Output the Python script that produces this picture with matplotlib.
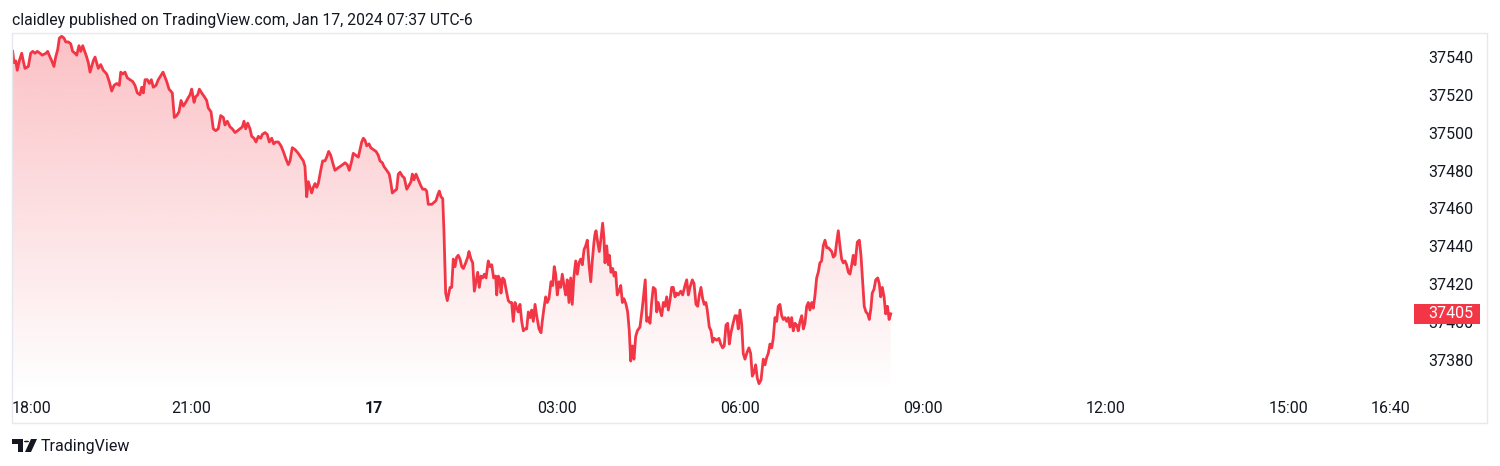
import numpy as np
import matplotlib.pyplot as plt
from matplotlib.patches import Rectangle, Circle, Polygon

# ---------------- DATA ----------------
# minutes after 18:00 (Jan 16) and last price
minutes = [
    4.6, 5.9, 7.6, 9.1, 11.1, 13.5, 15, 16.7, 20, 22.3, 24.3, 26.6, 28.8, 31.5, 33.7, 37.4, 39, 41.3, 43, 45.2,
    46.9, 48.9, 50.5, 52.8, 55.1, 56.8, 59.3, 61.7, 63.6, 65.9, 67.6, 69.8, 71.5, 73.5, 74.8, 77.4, 79, 80.7,
    82.3, 83.9, 85.6, 87.2, 88.8, 91.2, 93.7, 97.1, 99.6, 102, 104.3, 106.9, 109.5, 110.9, 112.8, 115.1, 117.3,
    120, 122.7, 124.9, 127.2, 129.8, 131.5, 133.1, 134.8, 137, 139, 141, 142.9, 145.6, 147.8,
    152.5, 156.1, 158.4, 161.6, 163.6, 165.9, 168.2, 170.2, 172.4, 174.8, 176.8, 179, 180.7, 183, 184.6, 186.6,
    188.2, 190.5, 193.1, 195.4, 197, 199.7, 201.9, 204.3, 206.8, 209.2, 211.8, 213.4, 215.7, 218.4, 220.6,
    223.3, 225.9, 228.2, 230.5, 232.1, 233.8, 235.8, 238, 239.7, 242, 243.9, 246.2, 248.6, 250.1, 252.8, 255,
    257, 259.4, 261.3, 263.3, 265.9, 268.5, 270.8, 273.4, 275.7, 277.4, 279.6, 282.3, 285.5, 287.9,
    290.5, 292.1, 293.8, 295.4, 297, 298.7, 300.3, 302, 303.6, 305.2, 307.6, 309.5, 311.8, 313.5, 315.4, 317.4,
    319.4, 321.6, 323.9, 326.6, 329.2, 331.5, 333.7, 335.7, 338.1, 339.6, 342, 344.6, 346.2, 347.9, 349.5,
    351.1, 352.8, 355.1, 356.8, 359.3, 362, 364.2, 365.9, 368.2, 369.8, 372.5, 375, 376.7, 378, 380, 382.3,
    383.9, 385.6, 387.8, 389.8, 392.2, 394.4, 396.4, 397.7, 399.3, 401.3, 403.6, 405.9, 407.9, 410.2, 411.8,
    413.4, 415.1, 416.8, 419, 421, 422.7, 424.2, 425.9, 427.6, 428.8, 430.5, 432.1, 434.8, 436.4,
    438, 439.7, 441.3, 442.9, 444.6, 446.3, 447.9, 450.2, 452.2, 453.4, 455.4, 457.1, 458.7, 460.3, 462, 463.6,
    465.2, 466.9, 468.5, 470.2, 472.4, 474.1, 475.8, 477.7, 479.7, 480.7, 482.3, 483.9, 484.9, 486.6, 488.2,
    489.5, 492.1, 493.8, 495.4, 497, 498.7, 500.4, 501.9, 503.6, 505.3, 506.9, 508.5, 510.2, 511.8, 513.5,
    515.1, 516.7, 518.4, 520, 522.3, 524.3, 525.5, 527.2, 528.9, 530.4, 532.1, 534.1, 535.8, 537.3, 538.7,
    540.3, 542, 543.6, 545.2, 546.9, 548.6, 550.1, 551.8, 553.5, 555, 556.7, 558.4, 560, 561.6, 563.3, 564.9,
    566.6, 568.2, 569.8, 571.5, 573.2, 574.7, 576.4,
    577.3, 578.4, 580, 581.6, 583.3, 584.9, 586.2, 587.2, 588.9, 590.5, 591.5, 593.1, 594.8, 596.1, 597.7,
    599.3, 601, 602.7, 604.3, 605.9, 607.9, 609.5, 611.1, 612.5, 614.1, 615.7, 617.4, 619, 621.6, 623.9,
    625.6, 626.8, 628.2, 629.8, 631.5, 633.1, 634.7, 636.7, 638.1, 639.6, 641.3, 643, 644.6, 646.2, 647.9,
    649.5, 651.1, 652.8, 654.4, 656.1, 657.7, 659.3, 661.7, 663.6, 665.9, 667.6, 669.2, 670.8, 673.1, 674.8,
    676.7, 678.4, 680, 681.6, 683.3, 684.8, 686.5, 687.8, 689.8, 691.5, 693.1, 694.7, 697.1, 699.3, 701,
    702.9, 704.5, 706.2, 707.9, 709.5, 711.1, 712.8, 715.1, 716.8,
    718.3, 720, 721.7, 723.2, 724.9, 727.2, 728.8, 730.5, 732.1, 733.8, 735.4, 737, 738.7, 740.7, 742.9,
    744.6, 746.3, 747.8, 749.5, 751.2, 752.7, 754.4, 756.1, 757.6, 759.3, 761, 762.6, 764.2, 765.9, 767.5,
    769.2, 770.8, 772.4, 774.1, 775.8, 777.3, 779, 780.7, 782.3, 783.9, 785.6, 787.2, 788.8, 790.5, 792.1,
    793.8, 795.4, 797, 798.6, 800.3, 801.9, 803.6, 805.3, 806.9, 808.5, 810.2, 811.8, 813.5, 815.1, 816.7,
    818.3, 820, 821.6, 823.3, 824.9, 826.6, 828.2, 829.9, 831.4, 833.1, 835.4, 837.4, 839, 840.7, 842.2,
    843.9, 845.6, 847.2, 848.8, 850.1, 851.8, 853.5, 855.5, 857, 858.4, 860, 861.7, 863.3, 865, 866.7, 868.3,
]
prices = [
    37544, 37538, 37539, 37534, 37539, 37543, 37539, 37535, 37536, 37543, 37544, 37543, 37544, 37543, 37542,
    37543, 37544, 37541, 37539, 37536, 37541, 37545, 37551, 37552, 37551, 37549, 37549, 37548, 37544, 37543,
    37542, 37547, 37544, 37547, 37545, 37541, 37538, 37533, 37536, 37539, 37541, 37538, 37535, 37537, 37534,
    37532, 37528, 37523, 37526, 37527, 37526, 37533, 37532, 37533, 37530, 37529, 37528, 37526, 37522, 37521,
    37525, 37522, 37529, 37529, 37527, 37529, 37525, 37526, 37529,
    37533, 37528, 37524, 37522, 37509, 37510, 37512, 37518, 37515, 37517, 37519, 37521, 37524, 37517, 37520,
    37521, 37524, 37522, 37520, 37518, 37514, 37512, 37503, 37502, 37503, 37510, 37509, 37505, 37507, 37504,
    37503, 37501, 37502, 37503, 37504, 37507, 37503, 37506, 37503, 37499, 37498, 37496, 37499, 37498, 37500,
    37501, 37500, 37496, 37498, 37495, 37496, 37496, 37494, 37491, 37487, 37484, 37486, 37493, 37492, 37490,
    37488,
    37486, 37483, 37467, 37475, 37472, 37469, 37472, 37474, 37472, 37474, 37481, 37486, 37486, 37488, 37491,
    37489, 37485, 37481, 37482, 37483, 37484, 37485, 37484, 37481, 37486, 37490, 37489, 37488, 37492, 37496,
    37498, 37497, 37494, 37495, 37493, 37492, 37491, 37489, 37486, 37485, 37483, 37481, 37479, 37474, 37469,
    37470, 37471, 37479, 37480, 37478, 37477, 37471, 37473, 37475, 37479, 37476, 37479, 37476, 37473, 37471,
    37471, 37470, 37463, 37463, 37463, 37464, 37465, 37468, 37470, 37467, 37466, 37449, 37416, 37412, 37419,
    37419,
    37434, 37430, 37435, 37436, 37434, 37430, 37429, 37432, 37435, 37438, 37434, 37432, 37417, 37422, 37427,
    37419, 37425, 37424, 37426, 37424, 37433, 37430, 37431, 37424, 37425, 37415, 37425, 37423, 37416, 37424,
    37423, 37419, 37412, 37411, 37411, 37401, 37411, 37408, 37406, 37410, 37401, 37396, 37397, 37397, 37406,
    37403, 37407, 37401, 37410, 37404, 37397, 37395, 37401, 37408, 37414, 37411, 37413, 37422, 37420, 37430,
    37426, 37415, 37422, 37419, 37426, 37420, 37415, 37423, 37411, 37424, 37410, 37425, 37433, 37426, 37432,
    37434, 37431, 37439, 37441, 37444, 37431, 37422, 37433, 37443,
    37447, 37449, 37443, 37438, 37445, 37453, 37445, 37432, 37441, 37431, 37436, 37427, 37429, 37425, 37427,
    37415, 37417, 37420, 37411, 37413, 37410, 37406, 37396, 37380, 37388, 37381, 37393, 37396, 37398, 37408,
    37417, 37423, 37401, 37403, 37400, 37411, 37419, 37418, 37406, 37411, 37407, 37404, 37411, 37409, 37414,
    37407, 37412, 37419, 37419, 37414, 37416, 37415, 37417, 37415, 37420, 37423, 37415, 37419, 37423, 37421,
    37410, 37409, 37415, 37419, 37413, 37410, 37411, 37407, 37398, 37396, 37390, 37392, 37391, 37392, 37389,
    37387, 37388, 37399, 37400, 37389, 37395, 37399, 37404, 37404,
    37397, 37407, 37399, 37384, 37381, 37385, 37387, 37384, 37372, 37374, 37378, 37371, 37368, 37370, 37381,
    37378, 37382, 37384, 37389, 37387, 37392, 37403, 37401, 37409, 37410, 37404, 37402, 37403, 37401, 37403,
    37398, 37403, 37396, 37400, 37399, 37396, 37401, 37404, 37397, 37400, 37409, 37411, 37407, 37411, 37408,
    37415, 37424, 37427, 37432, 37433, 37441, 37444, 37440, 37440, 37439, 37438, 37435, 37436, 37443, 37449,
    37441, 37434, 37432, 37433, 37431, 37427, 37426, 37431, 37436, 37431, 37443, 37444, 37436, 37422, 37409,
    37406, 37405, 37402, 37408, 37416, 37418, 37423, 37424, 37421, 37414, 37419, 37414, 37405, 37409, 37402,
    37405,
]

price_ticks = [37380, 37400, 37420, 37440, 37460, 37480, 37500, 37520, 37540]
time_ticks = [0, 180, 360, 540, 720, 900, 1080, 1260, 1360]
time_labels = ["18:00", "21:00", "17", "03:00", "06:00", "09:00", "12:00", "15:00", "16:40"]
last_price = 37405
title = "claidley published on TradingView.com, Jan 17, 2024 07:37 UTC-6"

# ---------------- STYLE ----------------
W, H = 1500, 466
RED = "#f23645"
TXT = "#131722"
plt.rcParams['font.family'] = ['Roboto', 'DejaVu Sans']

t = np.array(minutes)
p = np.array(prices)

fig = plt.figure(figsize=(W / 100, H / 100), dpi=100)
fig.patch.set_facecolor("white")

# pane: x 12..1412 px, y 34..392 px
ax = fig.add_axes([12 / W, (H - 392) / H, 1400 / W, 358 / H])
x0, x1 = 3.93, 1381
y0, y1 = 37363.6, 37553.2

# gradient area under the line
area = ax.fill_between(t, p, y0, facecolor="none", edgecolor="none")
rgba = np.zeros((256, 1, 4))
rgba[..., 0] = 242 / 255
rgba[..., 1] = 54 / 255
rgba[..., 2] = 69 / 255
rgba[:, 0, 3] = np.linspace(0.31, 0.0, 256)
img = ax.imshow(rgba, aspect="auto", extent=[x0, x1, y0, y1], origin="upper",
                interpolation="bilinear", zorder=1)
img.set_clip_path(area.get_paths()[0], transform=ax.transData)

ax.plot(t, p, color=RED, lw=2.0, zorder=3, solid_joinstyle="round")

ax.set_xlim(x0, x1)
ax.set_ylim(y0, y1)
ax.set_axis_off()

# price scale labels
ytr = ax.get_yaxis_transform()
for v in price_ticks:
    ax.text(1.0436, v, str(v), transform=ytr, ha="right", va="center",
            fontsize=11.5, color=TXT, clip_on=False)

# last price marker (covers part of the 37400 label, as on the original)
ax.add_patch(Rectangle((1.0014, last_price - 5.3), 66 / 1400, 10.6, transform=ytr,
                       facecolor=RED, edgecolor="none", clip_on=False, zorder=5))
ax.text(1.0436, last_price, str(last_price), transform=ytr, ha="right", va="center",
        fontsize=11.5, color="white", clip_on=False, zorder=6)

# time scale labels
xtr = ax.get_xaxis_transform()
for tt, lab in zip(time_ticks, time_labels):
    ha = "center"
    xx = tt
    if tt < x0:
        xx, ha = x0, "left"
    ax.text(xx, -0.0447, lab, transform=xtr, ha=ha, va="center", fontsize=11.5,
            color=TXT, fontweight="bold" if lab == "17" else "normal", clip_on=False)

# frame around chart
def fx(px):
    return px / W

def fy(py):
    return (H - py) / H

fig.add_artist(Rectangle((fx(12), fy(423)), fx(1487) - fx(12), fy(33) - fy(423),
                         transform=fig.transFigure, facecolor="none",
                         edgecolor="#e6e8ef", lw=1))

# header
fig.text(fx(12), fy(20), title, ha="left", va="center", fontsize=11.3, color=TXT)

# footer logo
fig.add_artist(Polygon([(fx(12), fy(439)), (fx(23), fy(439)), (fx(23), fy(452)),
                        (fx(18), fy(452)), (fx(18), fy(444)), (fx(12), fy(444))],
                       closed=True, transform=fig.transFigure, facecolor=TXT, edgecolor="none"))
fig.add_artist(Circle((fx(26.5), fy(441.5)), 2.6 / W, transform=fig.transFigure,
                      facecolor=TXT, edgecolor="none"))
fig.add_artist(Polygon([(fx(31), fy(439)), (fx(37), fy(439)), (fx(31), fy(452)), (fx(25), fy(452))],
                       closed=True, transform=fig.transFigure, facecolor=TXT, edgecolor="none"))
fig.text(fx(41), fy(446), "TradingView", ha="left", va="center", fontsize=11.5, color=TXT)

fig.savefig("out.png", dpi=100)
